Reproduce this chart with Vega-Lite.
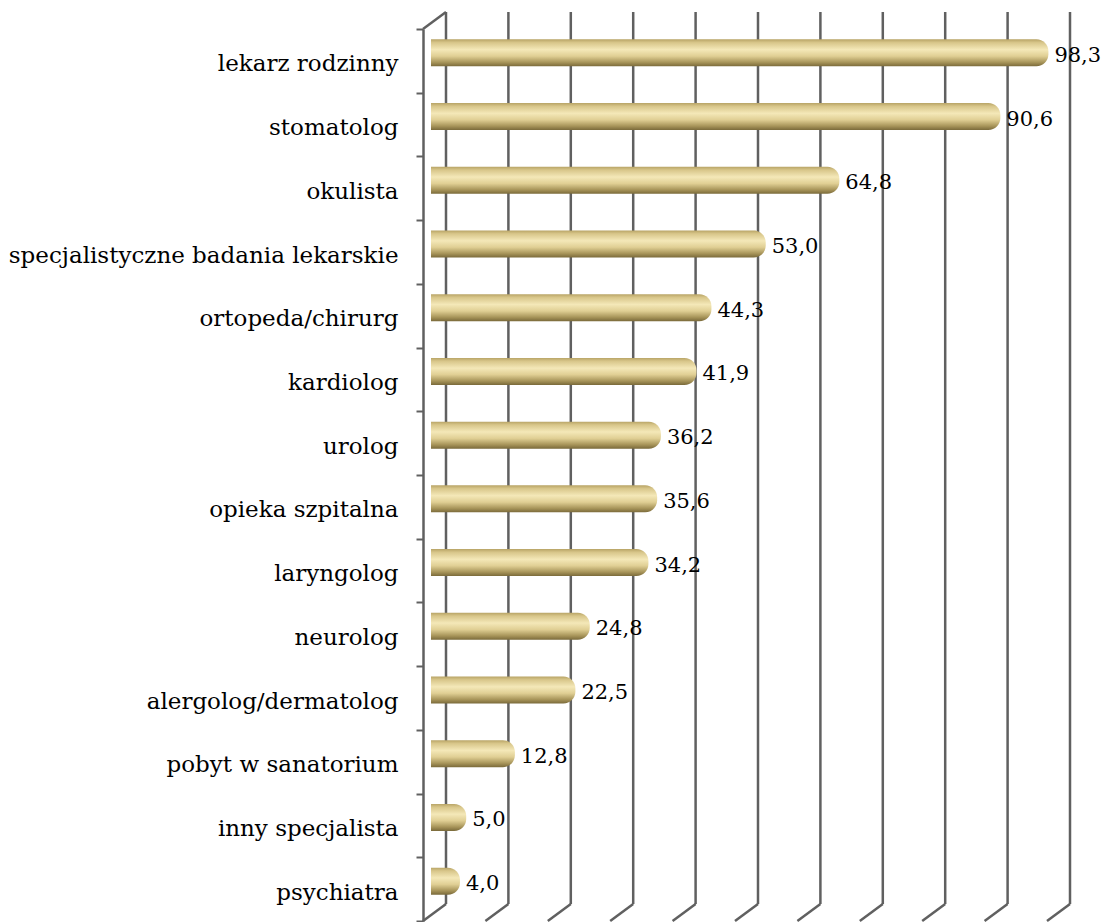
{
  "$schema": "https://vega.github.io/schema/vega-lite/v6.json",
  "width": 624,
  "height": 892,
  "autosize": {"type": "none"},
  "padding": {"left": 423, "top": 29, "right": 55, "bottom": 1},
  "background": "#ffffff",
  "datasets": {
    "wizyty": [
      {"kategoria": "lekarz rodzinny", "procent": 98.3},
      {"kategoria": "stomatolog", "procent": 90.6},
      {"kategoria": "okulista", "procent": 64.8},
      {"kategoria": "specjalistyczne badania lekarskie", "procent": 53.0},
      {"kategoria": "ortopeda/chirurg", "procent": 44.3},
      {"kategoria": "kardiolog", "procent": 41.9},
      {"kategoria": "urolog", "procent": 36.2},
      {"kategoria": "opieka szpitalna", "procent": 35.6},
      {"kategoria": "laryngolog", "procent": 34.2},
      {"kategoria": "neurolog", "procent": 24.8},
      {"kategoria": "alergolog/dermatolog", "procent": 22.5},
      {"kategoria": "pobyt w sanatorium", "procent": 12.8},
      {"kategoria": "inny specjalista", "procent": 5.0},
      {"kategoria": "psychiatra", "procent": 4.0}
    ],
    "siatka": [
      {"g": 0}, {"g": 10}, {"g": 20}, {"g": 30}, {"g": 40}, {"g": 50},
      {"g": 60}, {"g": 70}, {"g": 80}, {"g": 90}, {"g": 100}
    ]
  },
  "layer": [
    {
      "data": {"name": "siatka"},
      "mark": {"type": "rule", "color": "#606060", "strokeWidth": 2.5, "xOffset": 23, "yOffset": -17, "y2Offset": -17},
      "encoding": {
        "x": {"field": "g", "type": "quantitative", "scale": {"domain": [0, 100], "nice": false, "zero": true}, "axis": null},
        "y": {"datum": 1, "type": "quantitative", "scale": {"domain": [0, 1], "nice": false}, "axis": null},
        "y2": {"datum": 0}
      }
    },
    {
      "data": {"name": "siatka"},
      "mark": {"type": "rule", "color": "#606060", "strokeWidth": 2.5, "x2Offset": 23, "y2Offset": -17},
      "encoding": {
        "x": {"field": "g", "type": "quantitative"},
        "x2": {"field": "g"},
        "y": {"datum": 0, "type": "quantitative", "scale": {"domain": [0, 1], "nice": false}, "axis": null},
        "y2": {"datum": 0}
      }
    },
    {
      "data": {"values": [{}]},
      "mark": {"type": "rule", "color": "#606060", "strokeWidth": 2.5, "x2Offset": 23, "y2Offset": -17},
      "encoding": {
        "x": {"datum": 0, "type": "quantitative"},
        "x2": {"datum": 0},
        "y": {"datum": 1, "type": "quantitative", "scale": {"domain": [0, 1], "nice": false}, "axis": null},
        "y2": {"datum": 1}
      }
    },
    {
      "data": {"name": "wizyty"},
      "layer": [
        {
          "mark": {
            "type": "bar",
            "height": 27,
            "yOffset": -8,
            "xOffset": 12,
            "x2Offset": 8,
            "cornerRadiusTopRight": 12,
            "cornerRadiusBottomRight": 12,
            "fill": {
              "gradient": "linear",
              "x1": 0, "y1": 0, "x2": 0, "y2": 1,
              "stops": [
                {"offset": 0, "color": "#b8a466"},
                {"offset": 0.12, "color": "#d8c68a"},
                {"offset": 0.38, "color": "#f4e8b8"},
                {"offset": 0.62, "color": "#e0cf94"},
                {"offset": 0.85, "color": "#a8955a"},
                {"offset": 1, "color": "#7a6a3a"}
              ]
            }
          },
          "encoding": {
            "x": {"field": "procent", "type": "quantitative", "stack": null},
            "x2": {"datum": 0},
            "y": {
              "field": "kategoria",
              "type": "nominal",
              "sort": null,
              "scale": {"paddingInner": 0, "paddingOuter": 0},
              "axis": {
                "title": null,
                "tickBand": "extent",
                "tickSize": 7,
                "tickWidth": 2,
                "tickColor": "#606060",
                "domainColor": "#606060",
                "domainWidth": 2.5,
                "labelPadding": 18,
                "labelOffset": 3,
                "labelFont": "DejaVu Serif",
                "labelFontSize": 23,
                "labelColor": "#000000",
                "labelLimit": 0
              }
            }
          }
        },
        {
          "mark": {"type": "text", "align": "left", "baseline": "middle", "xOffset": 18, "yOffset": -5, "font": "DejaVu Serif", "fontSize": 21, "color": "#000000"},
          "encoding": {
            "x": {"field": "procent", "type": "quantitative"},
            "y": {"field": "kategoria", "type": "nominal", "sort": null},
            "text": {"field": "procent", "type": "quantitative", "format": ".1f"}
          }
        }
      ]
    }
  ],
  "resolve": {"scale": {"y": "independent"}},
  "config": {
    "view": {"stroke": null},
    "locale": {"number": {"decimal": ",", "thousands": " ", "grouping": [3], "currency": ["", " zł"]}}
  }
}
